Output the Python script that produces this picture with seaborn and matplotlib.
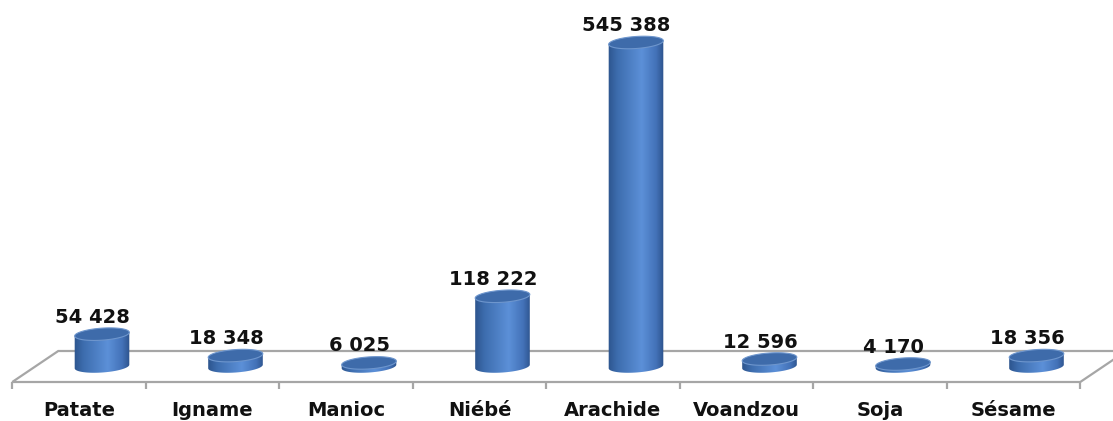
import numpy as np
import matplotlib
matplotlib.use("Agg")
import matplotlib.pyplot as plt
from matplotlib.patches import Polygon, PathPatch
from matplotlib.path import Path
from matplotlib.colors import LinearSegmentedColormap
import seaborn as sns

# Production par culture
cultures = ["Patate", "Igname", "Manioc", "Niébé", "Arachide",
            "Voandzou", "Soja", "Sésame"]
production = [54428, 18348, 6025, 118222, 545388, 12596, 4170, 18356]

sns.set_theme(style="white")
plt.rcParams["font.family"] = ["DejaVu Sans"]

W, H, DPI = 1113, 421, 100
fig = plt.figure(figsize=(W / DPI, H / DPI), dpi=DPI)
ax = fig.add_axes([0, 0, 1, 1])

# pixel geometry of the pseudo-3D scene
px_cat = 133.5                     # px per category
px_val = 324.0 / max(production)   # px per unit of value
x0_px, base_px = 102.0, 366.5      # first bar centre / base line (px)
depth_dx, depth_dy = 23.0, 15.5    # half depth of the floor (px)
cap_h_px = 12.0                    # minor axis of the elliptic caps (px)
tilt = np.deg2rad(4.0)             # slight perspective tilt of the caps

xlim = (-x0_px / px_cat, (W - x0_px) / px_cat)
ylim = (-(H - base_px) / px_val, base_px / px_val)

sns.barplot(x=cultures, y=production, ax=ax, width=0.41,
            color="#4F81BD", saturation=1, zorder=3)

dx = depth_dx / px_cat
dy = depth_dy / px_val
n = len(cultures)

# floor of the 3D plot
floor = Polygon([(-0.5 - dx, -dy), (n - 0.5 - dx, -dy),
                 (n - 0.5 + dx, dy), (-0.5 + dx, dy)],
                closed=True, facecolor="white", edgecolor="#A6A6A6",
                lw=1.6, zorder=1)
ax.add_patch(floor)
tick_len = 7 / px_val
for i in range(n + 1):
    xt = i - 0.5 - dx
    ax.plot([xt, xt], [-dy, -dy - tick_len], color="#A6A6A6", lw=1.6,
            zorder=1, solid_capstyle="butt")


def ellipse_pts(xc, yc, w_px, t):
    """Tilted ellipse points, sizes in px, returned in data units."""
    a, b = w_px / 2, cap_h_px / 2
    ex = a * np.cos(t) * np.cos(tilt) - b * np.sin(t) * np.sin(tilt)
    ey = a * np.cos(t) * np.sin(tilt) + b * np.sin(t) * np.cos(tilt)
    return np.column_stack([xc + ex / px_cat, yc + ey / px_val])


# cylinder shading
cmap = LinearSegmentedColormap.from_list(
    "cyl", [(0.0, "#2B528A"), (0.18, "#3D6DAE"), (0.6, "#5C90D8"),
            (0.85, "#4372B8"), (1.0, "#2A4E86")])
grad = np.linspace(0, 1, 256)[None, :]
bars = [p for p in ax.patches if p is not floor]

for patch in bars:
    xa = patch.get_x()
    w = patch.get_width()
    h = patch.get_height()
    xc = xa + w / 2
    w_px = w * px_cat
    patch.set_visible(False)

    # body: top edge joined to the front half of the tilted bottom ellipse
    top_l = ellipse_pts(xc, h, w_px, np.array([np.pi]))
    top_r = ellipse_pts(xc, h, w_px, np.array([0.0]))
    bottom = ellipse_pts(xc, 0, w_px, np.linspace(np.pi, 2 * np.pi, 60))
    verts = np.vstack([top_l, bottom, top_r, top_l])
    codes = [Path.MOVETO] + [Path.LINETO] * (len(verts) - 2) + [Path.CLOSEPOLY]
    body = PathPatch(Path(verts, codes), facecolor="none", edgecolor="none",
                     zorder=3)
    ax.add_patch(body)
    pad = cap_h_px / px_val
    im = ax.imshow(grad, cmap=cmap, aspect="auto",
                   extent=(xa - 0.01, xa + w + 0.01, -pad, h + pad), zorder=3,
                   interpolation="bilinear")
    im.set_clip_path(body)

    cap = Polygon(ellipse_pts(xc, h, w_px, np.linspace(0, 2 * np.pi, 90)),
                  closed=True, facecolor="#3E6BAA", edgecolor="#6E96CD",
                  lw=0.8, zorder=4)
    ax.add_patch(cap)

for i, (name, v) in enumerate(zip(cultures, production)):
    ax.annotate(f"{v:,}".replace(",", " "), xy=(i - 0.07, v),
                xytext=(0, (cap_h_px / 2 + 5.5) * 72 / DPI),
                textcoords="offset points", ha="center", va="baseline",
                fontsize=14, fontweight="bold", color="#111111", zorder=5)
    ax.text(i - dx, -(416 - base_px) / px_val, name, ha="center",
            va="baseline", fontsize=14, fontweight="bold", color="#111111")

ax.set_xlim(*xlim)
ax.set_ylim(*ylim)
ax.axis("off")
fig.savefig("out.png", dpi=DPI, facecolor="white")
